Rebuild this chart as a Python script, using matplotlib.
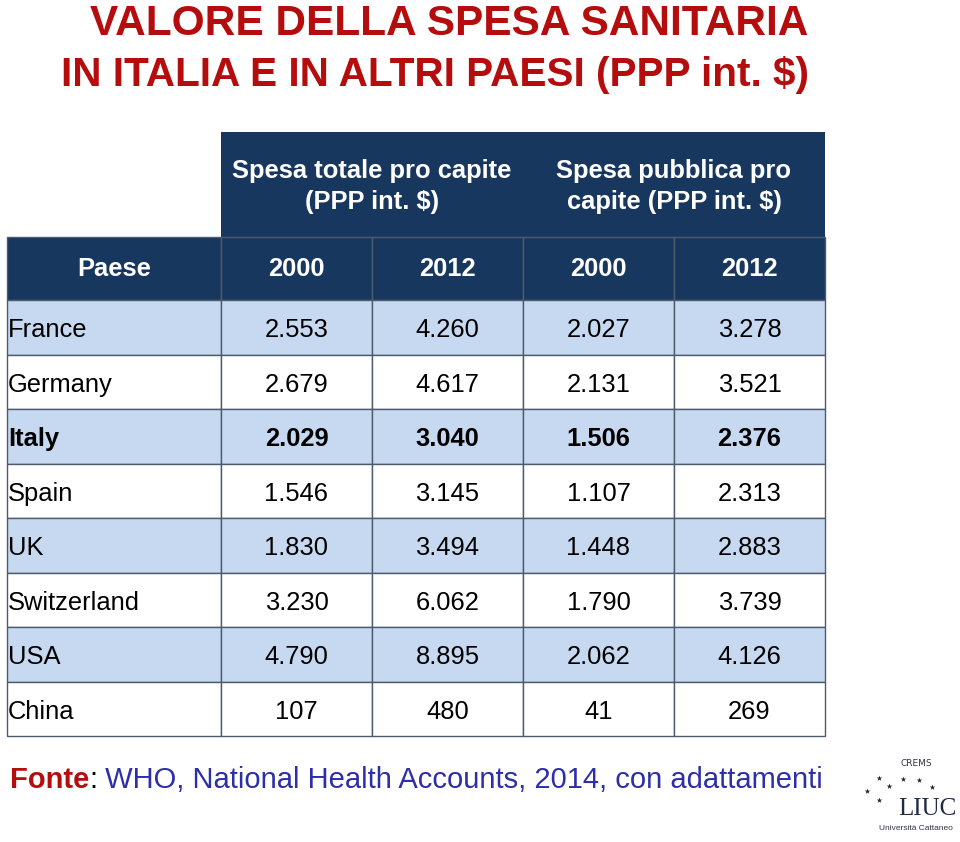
import matplotlib.pyplot as plt
from matplotlib.patches import Rectangle

# dati della tabella
paesi = ["France", "Germany", "Italy", "Spain", "UK", "Switzerland", "USA", "China"]
tot_2000 = ["2.553", "2.679", "2.029", "1.546", "1.830", "3.230", "4.790", "107"]
tot_2012 = ["4.260", "4.617", "3.040", "3.145", "3.494", "6.062", "8.895", "480"]
pub_2000 = ["2.027", "2.131", "1.506", "1.107", "1.448", "1.790", "2.062", "41"]
pub_2012 = ["3.278", "3.521", "2.376", "2.313", "2.883", "3.739", "4.126", "269"]
gruppi = [["Spesa totale pro capite", "(PPP int. $)"],
          ["Spesa pubblica pro", "capite (PPP int. $)"]]
intestazioni = ["Paese", "2000", "2012", "2000", "2012"]
evidenziato = "Italy"

# colori
NAVY = "#17375e"
LIGHT = "#c6d9f1"
BORDER = "#4d5b6e"
RED = "#b50d0d"
BLUE = "#2e2ea8"

plt.rcParams['font.family'] = ['Liberation Sans', 'DejaVu Sans']

fig = plt.figure(figsize=(9.6, 8.42), dpi=100)
ax = fig.add_axes([0, 0, 1, 1])
ax.set_xlim(0, 960)
ax.set_ylim(842, 0)
ax.axis("off")

# ========================
#  Titolo
# ========================
ax.text(449, 35, "VALORE DELLA SPESA SANITARIA", color=RED, fontsize=30.5,
        fontweight="bold", ha="center", va="baseline")
ax.text(435, 86, "IN ITALIA E IN ALTRI PAESI (PPP int. $)", color=RED, fontsize=29.2,
        fontweight="bold", ha="center", va="baseline")

# ========================
#  Tabella
# ========================
xs = [7, 221, 372, 523, 674, 825]  # bordi delle colonne
y_top = 132
y_h2 = 237
y_dati = 300
h_riga = 54.5
FS = 18.4

# intestazione superiore (celle unite)
for g, righe in enumerate(gruppi):
    x0, x1 = xs[1 + 2 * g], xs[3 + 2 * g]
    ax.add_patch(Rectangle((x0, y_top), x1 - x0, y_h2 - y_top, facecolor=NAVY,
                           edgecolor="none"))
    for k, testo in enumerate(righe):
        ax.text((x0 + x1) / 2, 178 + 31 * k, testo, color="white", fontsize=FS,
                fontweight="bold", ha="center", va="baseline")

# seconda riga di intestazione
for c, testo in enumerate(intestazioni):
    x0, x1 = xs[c], xs[c + 1]
    ax.add_patch(Rectangle((x0, y_h2), x1 - x0, y_dati - y_h2, facecolor=NAVY,
                           edgecolor=BORDER, linewidth=1))
    ax.text((x0 + x1) / 2, (y_h2 + y_dati) / 2 + 8, testo, color="white", fontsize=FS,
            fontweight="bold", ha="center", va="baseline")

# righe dei dati
colonne = [tot_2000, tot_2012, pub_2000, pub_2012]
for r, paese in enumerate(paesi):
    y0 = y_dati + r * h_riga
    fc = LIGHT if r % 2 == 0 else "white"
    peso = "bold" if paese == evidenziato else "normal"
    for c in range(5):
        ax.add_patch(Rectangle((xs[c], y0), xs[c + 1] - xs[c], h_riga, facecolor=fc,
                               edgecolor=BORDER, linewidth=1))
    yb = y0 + h_riga / 2 + 10
    ax.text(xs[0] + 1, yb, paese, fontsize=FS, fontweight=peso,
            ha="left", va="baseline", color="black")
    for c, col in enumerate(colonne):
        ax.text((xs[c + 1] + xs[c + 2]) / 2, yb, col[r], fontsize=FS,
                fontweight=peso, ha="center", va="baseline", color="black")

# ========================
#  Fonte
# ========================
t1 = ax.text(10, 788, "Fonte", color=RED, fontsize=21, fontweight="bold",
             ha="left", va="baseline")
t2 = ax.annotate(":", xy=(1, 0), xycoords=t1, xytext=(0, 0), textcoords="offset points",
                 fontsize=21, color="black", ha="left", va="bottom")
ax.annotate(" WHO, National Health Accounts, 2014, con adattamenti", xy=(1, 0),
            xycoords=t2, xytext=(0, 0), textcoords="offset points", fontsize=21,
            color=BLUE, ha="left", va="bottom")

# ========================
#  Logo
# ========================
stelle_x = [879, 903, 919, 889, 932, 867, 879]
stelle_y = [778, 779, 780, 786, 787, 791, 800]
ax.scatter(stelle_x, stelle_y, marker="*", s=18, color="#222222", linewidths=0)
ax.text(916, 763, "CREMS", fontsize=6.5, color="#333344", ha="center", va="center",
        family=["DejaVu Sans"])
ax.text(927, 809, "LIUC", fontsize=18, color="#1f2a44", ha="center", va="center",
        family=["Liberation Serif", "DejaVu Serif"])
ax.text(916, 829, "Università Cattaneo", fontsize=6, color="#333344", ha="center",
        va="center")

plt.savefig("out.png", dpi=100)
